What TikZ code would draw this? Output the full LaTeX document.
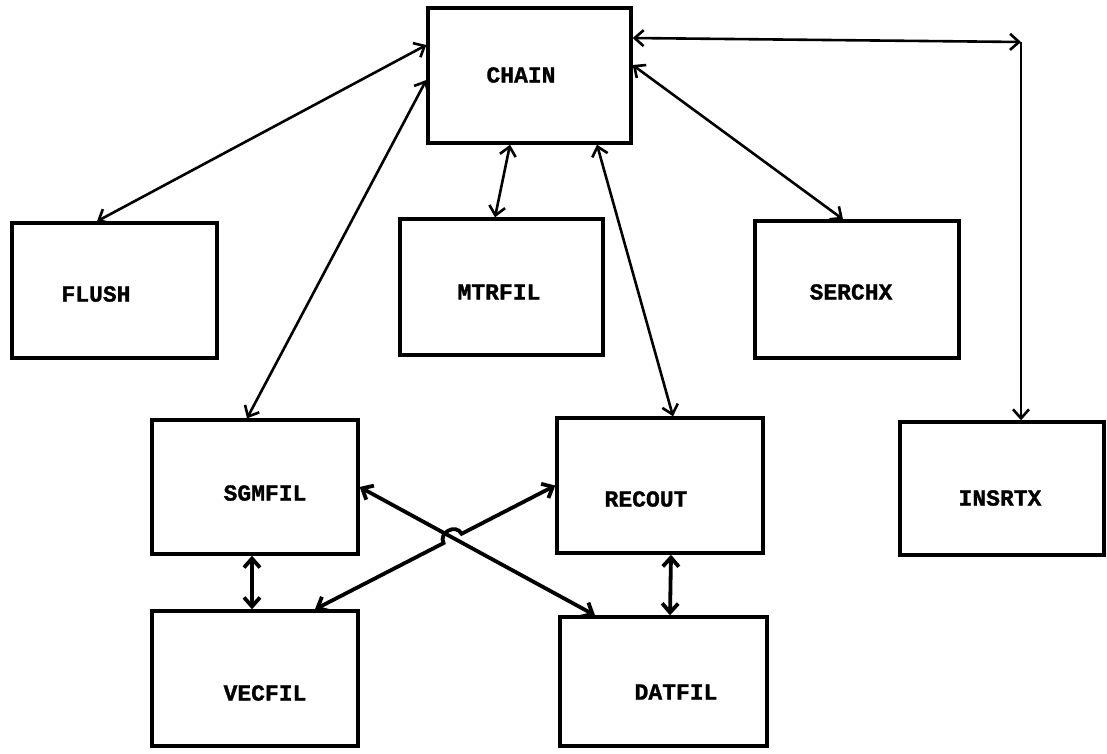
\documentclass[tikz,border=0pt]{standalone}
\usepackage{fontspec}
\setmonofont{Liberation Mono}[BoldFeatures={FakeBold=1.2}]
\usetikzlibrary{arrows.meta,calc}
\begin{document}
\begin{tikzpicture}[x=1pt,y=-1pt,
  box/.style={draw,line width=3.4pt,inner sep=0pt},
  lbl/.style={font=\fontsize{23}{27}\selectfont\ttfamily\bfseries,inner sep=0pt},
  >={Straight Barb[length=9pt,width=16pt]},
  conn/.style={line width=2.6pt,<->},
  thickconn/.style={line width=3.8pt,<->},
  oneway/.style={line width=2.6pt,->}]
\useasboundingbox (0,0) rectangle (1107,753);
% boxes
\node[box,minimum width=203pt,minimum height=135pt] (chain) at (529.5,75.5) {};
\node[box,minimum width=205pt,minimum height=135pt] (flush) at (114.5,290.5) {};
\node[box,minimum width=203pt,minimum height=136pt] (mtrfil) at (501.5,287) {};
\node[box,minimum width=204pt,minimum height=137pt] (serchx) at (857,289.5) {};
\node[box,minimum width=206pt,minimum height=134pt] (sgmfil) at (255,487) {};
\node[box,minimum width=206pt,minimum height=135pt] (recout) at (660,485.5) {};
\node[box,minimum width=204pt,minimum height=133pt] (insrtx) at (1002,488.5) {};
\node[box,minimum width=206pt,minimum height=135pt] (vecfil) at (255,678.5) {};
\node[box,minimum width=207pt,minimum height=129pt] (datfil) at (663.5,681.5) {};
% labels
\node[lbl] (chainT) at (521,75) {CHAIN};
\node[lbl] (flushT) at (96,294) {FLUSH};
\node[lbl] (mtrfilT) at (499,292) {MTRFIL};
\node[lbl] (serchxT) at (851,292) {SERCHX};
\node[lbl] (sgmfilT) at (265,493) {SGMFIL};
\node[lbl] (vecfilT) at (265,693) {VECFIL};
\node[lbl] (recoutT) at (646,499) {RECOUT};
\node[lbl] (insrtxT) at (1000,498) {INSRTX};
\node[lbl] (datfilT) at (676,692) {DATFIL};
% connectors from CHAIN
\draw[conn] ([yshift=30.5pt]chain.west) -- ([xshift=-17.5pt]flush.north);
\draw[conn] ([yshift=-4.5pt]chain.west) -- ([xshift=-8pt]sgmfil.north);
\draw[conn] ([xshift=-19.5pt]chain.south) -- ([xshift=-6.5pt]mtrfil.north);
\draw[conn] ([xshift=67.5pt]chain.south) -- ([xshift=13pt]recout.north);
\draw[conn] ([yshift=10.5pt]chain.east) -- ([xshift=-14pt]serchx.north);
\coordinate (corner) at (1021,42);
\draw[conn] ([yshift=37.5pt]chain.east) -- (corner);
\draw[oneway] (corner) -- (corner |- insrtx.north);
% lower connectors
\draw[thickconn] (sgmfil.east) -- ([xshift=-68.5pt]datfil.north);
\coordinate (vtop) at ([xshift=60pt]vecfil.north);
\draw[thickconn] (recout.west) -- ($(recout.west)!0.39!(vtop)$)
  to[bend right=90,looseness=1.5] ($(recout.west)!0.465!(vtop)$) -- (vtop);
\draw[thickconn] ([xshift=-3pt]sgmfil.south) -- ([xshift=-3pt]vecfil.north);
\draw[thickconn] ([xshift=11pt]recout.south) -- ([xshift=6.5pt]datfil.north);
\end{tikzpicture}
\end{document}
